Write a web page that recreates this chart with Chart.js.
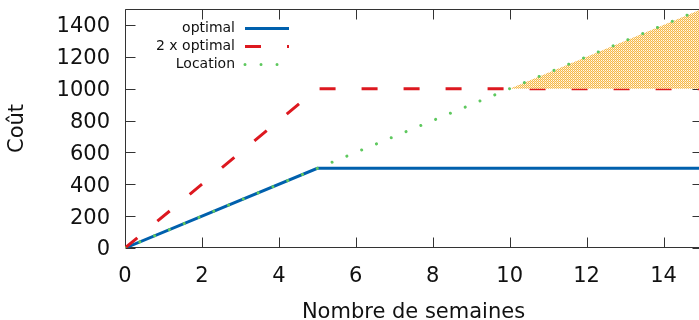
<!DOCTYPE html>
<html><head><meta charset="utf-8">
<style>html,body{margin:0;padding:0;overflow:hidden;background:#fff;width:699px;height:320px}canvas{display:block}</style>
<script src="https://cdn.jsdelivr.net/npm/chart.js@4/dist/chart.umd.min.js"></script>
</head><body><canvas id="c" width="704" height="330"></canvas>
<script>
const weeks = [0, 5, 15];
const optimalCost = [0, 500, 500];
const doubleOptimalCost = [0, 1000, 1000];
const locationWeeks = [0, 10, 15];
const locationCost = [0, 1000, 1500];
const rentalThreshold = 1000;
const xTickValues = [0, 2, 4, 6, 8, 10, 12, 14];
const yTickValues = [0, 200, 400, 600, 800, 1000, 1200, 1400];
const seriesLabels = ['optimal', '2 x optimal', 'Location'];
const xTitle = 'Nombre de semaines';
const yTitle = 'Coût';

const FONT = 'DejaVu Sans';
const canvas = document.getElementById('c');
const ctx = canvas.getContext('2d');

function makePattern() {
  const off = document.createElement('canvas');
  off.width = 4; off.height = 4;
  const g = off.getContext('2d');
  for (let y = 0; y < 4; y++) for (let x = 0; x < 4; x++) {
    if ((x + y) % 2 === 0) g.fillStyle = '#f5b848';
    else if (x % 2 === 0) g.fillStyle = '#fde2ae';
    else g.fillStyle = '#fffaf0';
    g.fillRect(x, y, 1, 1);
  }
  return ctx.createPattern(off, 'repeat');
}
const hatch = makePattern();

const framePlugin = {
  id: 'frame',
  beforeDatasetsDraw(chart) {
    const {ctx, chartArea: a, scales: {x, y}} = chart;
    ctx.save();
    ctx.strokeStyle = '#333';
    ctx.lineWidth = 1;
    const L = Math.floor(a.left) + 0.5, R = Math.floor(a.right) + 0.5;
    const T = Math.floor(a.top) + 0.5, B = Math.floor(a.bottom) - 0.5;
    ctx.beginPath();
    ctx.moveTo(L, T); ctx.lineTo(R, T); ctx.lineTo(R, B); ctx.lineTo(L, B); ctx.closePath();
    x.ticks.forEach(t => {
      const px = Math.round(x.getPixelForValue(t.value)) + 0.5;
      ctx.moveTo(px, B); ctx.lineTo(px, B - 10);
      ctx.moveTo(px, T); ctx.lineTo(px, T + 10);
    });
    y.ticks.forEach(t => {
      const py = Math.round(y.getPixelForValue(t.value)) + 0.5;
      ctx.moveTo(L, py); ctx.lineTo(L + 10, py);
      ctx.moveTo(R, py); ctx.lineTo(R - 10, py);
    });
    ctx.stroke();
    ctx.restore();
  }
};

const keyPlugin = {
  id: 'key',
  afterDraw(chart) {
    const {ctx, chartArea: a} = chart;
    ctx.save();
    ctx.font = '14px "' + FONT + '"';
    ctx.textAlign = 'right';
    ctx.textBaseline = 'middle';
    chart.data.datasets.filter(ds => ds.inKey).forEach((ds, i) => {
      const cy = 28.5 + 18 * i;
      ctx.fillStyle = '#111';
      ctx.fillText(ds.label, a.left + 110, cy);
      ctx.beginPath();
      ctx.strokeStyle = ds.borderColor;
      ctx.lineWidth = ds.borderWidth;
      ctx.lineCap = ds.borderCapStyle || 'butt';
      ctx.setLineDash(ds.borderDash || []);
      ctx.moveTo(a.left + 120, cy);
      ctx.lineTo(a.left + 164, cy);
      ctx.stroke();
    });
    ctx.restore();
  }
};

const tickFont = {family: FONT, size: 21};
const locationPoints = locationWeeks.map((w, i) => ({x: w, y: locationCost[i]}));

new Chart(ctx, {
  type: 'line',
  data: {
    datasets: [
      {
        label: seriesLabels[0], inKey: true,
        data: weeks.map((w, i) => ({x: w, y: optimalCost[i]})),
        borderColor: '#0060ad', borderWidth: 3, pointRadius: 0, fill: false, order: 4
      },
      {
        label: seriesLabels[1], inKey: true,
        data: weeks.map((w, i) => ({x: w, y: doubleOptimalCost[i]})),
        borderColor: '#dd181f', borderWidth: 3, borderDash: [16, 26], pointRadius: 0, fill: false, order: 3
      },
      {
        label: seriesLabels[2], inKey: true,
        data: locationPoints,
        borderColor: '#5ec85e', borderWidth: 3, borderDash: [0.01, 16], borderCapStyle: 'round',
        pointRadius: 0, fill: false, order: 1
      },
      {
        label: 'zone', inKey: false,
        data: locationPoints.filter(p => p.y >= rentalThreshold),
        borderWidth: 0, borderColor: 'rgba(0,0,0,0)', pointRadius: 0,
        backgroundColor: hatch,
        fill: {target: {value: rentalThreshold}},
        order: 2
      }
    ]
  },
  options: {
    responsive: false,
    animation: false,
    devicePixelRatio: 1,
    layout: {padding: {left: 0, right: 2, top: 9, bottom: 0}},
    plugins: {legend: {display: false}, tooltip: {enabled: false}},
    scales: {
      x: {
        type: 'linear', min: 0, max: 15,
        grid: {display: false, drawTicks: false},
        border: {display: false},
        ticks: {stepSize: 2, padding: 16, color: '#111', font: tickFont, maxRotation: 0, callback: v => String(v)},
        afterBuildTicks: s => { s.ticks = xTickValues.map(v => ({value: v})); },
        afterFit: s => { s.height = 82; s.paddingLeft = 0; s.paddingRight = 0; },
        title: {display: true, text: xTitle, color: '#111', font: tickFont, padding: {top: 0, bottom: 4.7}}
      },
      y: {
        type: 'linear', min: 0, max: 1500,
        grid: {display: false, drawTicks: false},
        border: {display: false},
        ticks: {stepSize: 200, padding: 15, labelOffset: 2, color: '#111', font: tickFont, callback: v => String(v)},
        afterBuildTicks: s => { s.ticks = yTickValues.map(v => ({value: v})); },
        afterFit: s => { s.width = 125; s.paddingTop = 0; s.paddingBottom = 0; },
        title: {display: true, text: yTitle, color: '#111', font: tickFont, padding: {top: 5, bottom: 0}}
      }
    }
  },
  plugins: [framePlugin, keyPlugin]
});
</script></body></html>
